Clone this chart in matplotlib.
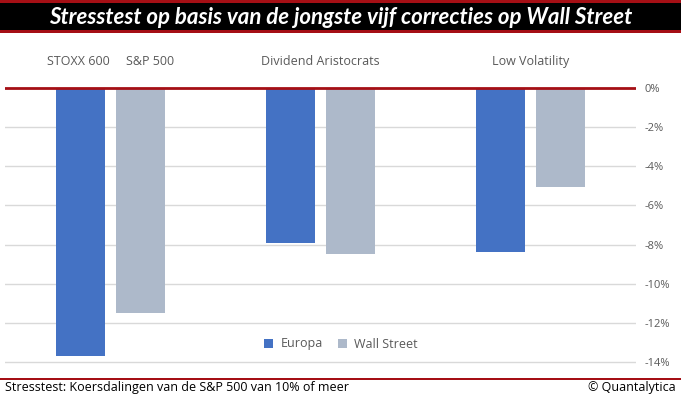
import matplotlib
matplotlib.use("Agg")
import matplotlib.pyplot as plt
from matplotlib.patches import Rectangle, Patch
import numpy as np

categories = ["STOXX 600     S&P 500", "Dividend Aristocrats", "Low Volatility"]
europa = [-13.7, -7.9, -8.4]
wall_street = [-11.5, -8.5, -5.05]
yticks = [0, -2, -4, -6, -8, -10, -12, -14]
ytick_labels = ["0%", "-2%", "-4%", "-6%", "-8%", "-10%", "-12%", "-14%"]
series_names = ["Europa", "Wall Street"]

W, H = 681, 399
fig = plt.figure(figsize=(W / 100, H / 100), dpi=100)
fig.patch.set_facecolor("white")

TEXT = "#595959"
BLUE = "#4472C4"
GREY = "#ADB9CA"
RED = "#A50F15"

# Title band
fig.patches.append(Rectangle((0, 1 - 33 / H), 1, 33 / H, transform=fig.transFigure,
                             facecolor=RED, edgecolor="none", zorder=0))
fig.patches.append(Rectangle((0, 1 - 30 / H), 1, 27 / H, transform=fig.transFigure,
                             facecolor="black", edgecolor="none", zorder=1))
fig.text(0.5, 1 - 17 / H, "Stresstest op basis van de jongste vijf correcties op Wall Street",
         ha="center", va="center", color="white", fontsize=16, fontweight="bold",
         fontstyle="italic", family="Lato", zorder=2)

# Footer line
fig.patches.append(Rectangle((0, 1 - 380 / H), 1, 2.5 / H, transform=fig.transFigure,
                             facecolor=RED, edgecolor="none"))
fig.text(5 / W, 1 - 388 / H, "Stresstest: Koersdalingen van de S&P 500 van 10% of meer",
         ha="left", va="center", fontsize=9, family="Open Sans", color="black")
fig.text(676 / W, 1 - 388 / H, "\u00a9 Quantalytica", ha="right", va="center",
         fontsize=9, family="Open Sans", color="black")

# Axes
ppu = (362 - 88) / 14.0
top_px, bot_px = 45, 370
left_px, right_px = 5, 636
ax = fig.add_axes([left_px / W, 1 - bot_px / H, (right_px - left_px) / W, (bot_px - top_px) / H])
ax.set_xlim(-0.5, 2.5)
ax.set_ylim(-(bot_px - 88) / ppu, (88 - top_px) / ppu)
for s in ax.spines.values():
    s.set_visible(False)

x = np.arange(len(categories))
bw = 49 / 210.33
off = 30 / 210.33
ax.bar(x - off, europa, bw, color=BLUE, zorder=3)
ax.bar(x + off, wall_street, bw, color=GREY, zorder=3)

for t in yticks:
    if t == 0:
        ax.axhline(t, color=RED, lw=2, zorder=4)
    else:
        ax.axhline(t, color="#D9D9D9", lw=1, zorder=1)

ax.set_xticks([])
ax.yaxis.tick_right()
ax.set_yticks(yticks)
ax.set_yticklabels(ytick_labels)
ax.tick_params(axis="y", length=0, pad=6, labelcolor=TEXT, labelsize=8)
for lbl in ax.get_yticklabels():
    lbl.set_family("Open Sans")

for xi, c in zip(x, categories):
    ax.text(xi, (88 - 61) / ppu, c, ha="center", va="center", color=TEXT,
            fontsize=9, family="Open Sans")

handles = [Patch(facecolor=BLUE), Patch(facecolor=GREY)]
fig.legend(handles, series_names, loc="center", bbox_to_anchor=(341 / W, 1 - 344 / H),
           ncol=2, frameon=False, handlelength=0.7, handleheight=0.7, handletextpad=0.6,
           columnspacing=1.2, prop={"family": "Open Sans", "size": 9}, labelcolor=TEXT)

fig.savefig("out.png", dpi=100)
